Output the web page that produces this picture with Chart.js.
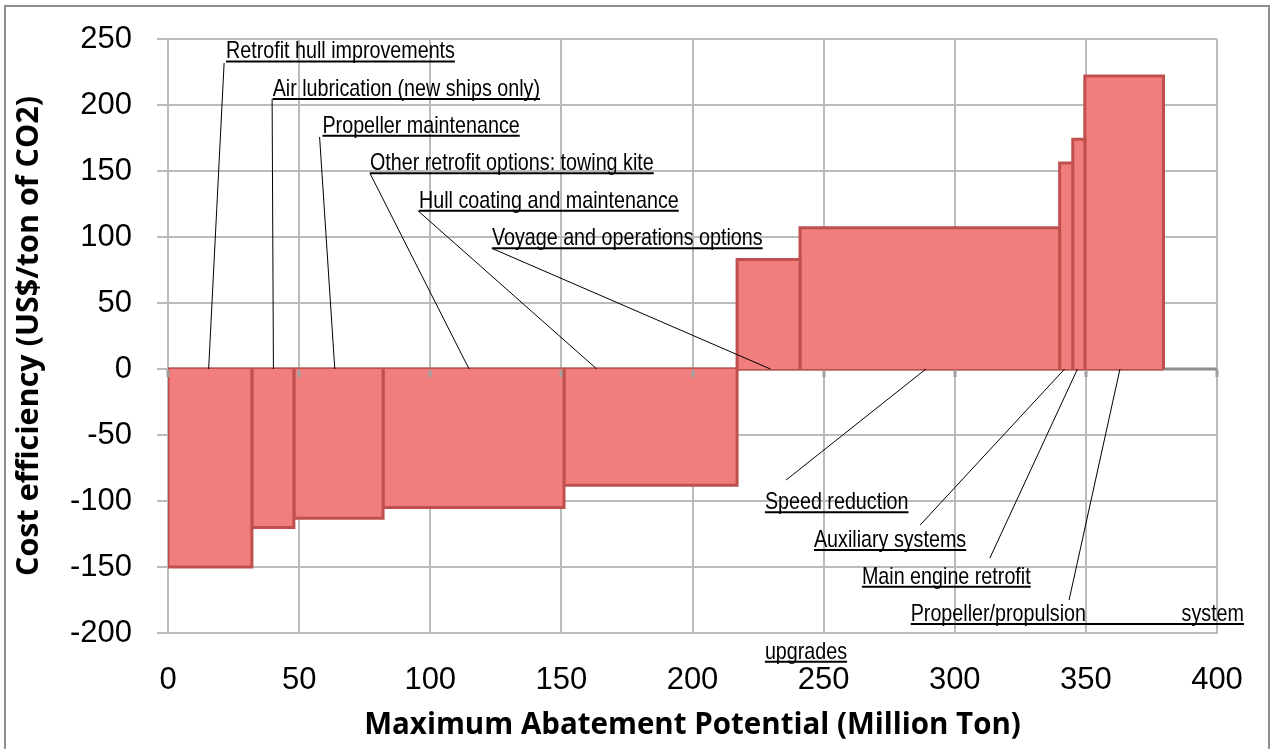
<!DOCTYPE html>
<html>
<head>
<meta charset="utf-8">
<script src="https://cdn.jsdelivr.net/npm/chart.js@4.4.1/dist/chart.umd.min.js"></script>
<style>
  html, body { margin: 0; padding: 0; background: #fff; }
  canvas { display: block; }
</style>
</head>
<body>
<canvas id="myChart" width="1272" height="749"></canvas>
<script>
// measures, in the order they sit on the curve
const measures = [
  'Retrofit hull improvements',
  'Air lubrication (new ships only)',
  'Propeller maintenance',
  'Other retrofit options: towing kite',
  'Hull coating and maintenance',
  'Voyage and operations options',
  'Speed reduction',
  'Auxiliary systems',
  'Main engine retrofit',
  'Propeller/propulsion system upgrades'
]
// maximum abatement potential of each measure (Million Ton) = block width
const potential = [32, 16, 34, 69, 66, 24, 99, 5, 4.6, 30]
// cost efficiency (US$/ton of CO2) = block height
const cost = [-150, -120, -113, -105, -88, 83, 107, 156, 174, 222]

const xTicks = [0, 50, 100, 150, 200, 250, 300, 350, 400]
const yTicks = [-200, -150, -100, -50, 0, 50, 100, 150, 200, 250]

// where the callout labels sit (axis units): text start + underline level,
// start of leader line, and where the leader hits the zero line
const calloutLayout = [
  {tx: 22.1, ty: 233.0, sx: 21.4, sy: 231.8, ex: 15.5},
  {tx: 39.9, ty: 204.5, sx: 39.7, sy: 204.5, ex: 40.2},
  {tx: 58.9, ty: 176.7, sx: 57.8, sy: 175.8, ex: 63.6},
  {tx: 77.0, ty: 148.3, sx: 77.0, sy: 148.3, ex: 114.8},
  {tx: 95.7, ty: 119.9, sx: 95.3, sy: 119.9, ex: 163.5},
  {tx: 123.5, ty: 91.4, sx: 123.5, sy: 91.4, ex: 229.7},
  {tx: 227.6, ty: -108.6, sx: 235.7, sy: -84.1, ex: 289.0},
  {tx: 246.3, ty: -137.1, sx: 286.8, sy: -118.2, ex: 341.9},
  {tx: 264.6, ty: -164.9, sx: 313.4, sy: -143.2, ex: 346.8},
  {tx: 283.2, ty: -193.2, sx: 343.6, sy: -175.0, ex: 363.0, wrapX: 410.3, wrapTx: 227.6, wrapTy: -221.7}
]

const FILL = '#F27D7D'
const EDGE = '#C0504D'
const GRID = '#BBBBBB'
const LABEL_FONT = '"Liberation Sans Narrow", "Arial Narrow", "Liberation Sans", sans-serif'
const TITLE_FONT = '"Open Sans", "DejaVu Sans", sans-serif'

// one rectangle per measure, built from the cumulative potential
let start = 0
const datasets = measures.map((name, i) => {
  const x0 = start
  const x1 = start + potential[i]
  start = x1
  return {
    label: name,
    data: [{x: x0, y: 0}, {x: x0, y: cost[i]}, {x: x1, y: cost[i]}, {x: x1, y: 0}],
    fill: 'origin',
    backgroundColor: FILL,
    borderColor: EDGE,
    borderWidth: 3,
    borderJoinStyle: 'miter',
    pointRadius: 0,
    pointHoverRadius: 0,
    tension: 0
  }
})
// the edge every block shares with the zero line
datasets.push({
  label: 'zero edge',
  data: [{x: 0, y: 0}, {x: start, y: 0}],
  fill: false,
  borderColor: EDGE,
  borderWidth: 3,
  pointRadius: 0,
  pointHoverRadius: 0
})

const callouts = {
  id: 'callouts',
  beforeDatasetsDraw(chart) {
    const {ctx, scales: {x, y}} = chart
    const y0 = y.getPixelForValue(0)
    ctx.save()
    ctx.strokeStyle = '#8C8C8C'
    ctx.lineWidth = 3
    ctx.beginPath()
    ctx.moveTo(x.getPixelForValue(0), y0)
    ctx.lineTo(x.getPixelForValue(400), y0)
    ctx.stroke()
    ctx.restore()
  },
  afterDatasetsDraw(chart) {
    const {ctx, scales: {x, y}} = chart
    const y0 = y.getPixelForValue(0)
    ctx.save()
    ctx.strokeStyle = '#A0A0A0'
    ctx.lineWidth = 3
    xTicks.forEach(v => {
      const px = Math.round(x.getPixelForValue(v))
      ctx.beginPath()
      ctx.moveTo(px, y0 + 1)
      ctx.lineTo(px, y0 + 8)
      ctx.stroke()
    })
    ctx.restore()
  },
  afterDraw(chart) {
    const {ctx, scales: {x, y}} = chart
    ctx.save()

    // outer chart frame
    ctx.strokeStyle = '#8F8F8F'
    ctx.lineWidth = 2
    ctx.strokeRect(5, 6, 1264, 760)

    ctx.font = '24px ' + LABEL_FONT
    // if no narrow face is installed, squeeze the regular one
    let squeeze = 1
    const wNarrow = ctx.measureText('Retrofit hull improvements').width
    if (wNarrow > 250) squeeze = 229 / wNarrow

    ctx.fillStyle = '#000'
    ctx.textBaseline = 'alphabetic'

    const drawText = (txt, px, py, align) => {
      const w = ctx.measureText(txt).width * squeeze
      const left = align === 'right' ? px - w : px
      ctx.save()
      ctx.translate(left, py)
      ctx.scale(squeeze, 1)
      ctx.fillText(txt, 0, 0)
      ctx.restore()
      return w
    }
    const underline = (xa, xb, py) => {
      ctx.lineWidth = 2
      ctx.beginPath()
      ctx.moveTo(xa, py)
      ctx.lineTo(xb, py)
      ctx.stroke()
    }

    ctx.strokeStyle = '#000'
    calloutLayout.forEach((L, i) => {
      const px = x.getPixelForValue(L.tx)
      const py = y.getPixelForValue(L.ty)
      if (L.wrapX !== undefined) {
        const words = measures[i].split(' ')
        const xr = x.getPixelForValue(L.wrapX)
        drawText(words[0], px, py - 3, 'left')
        drawText(words[1], xr, py - 3, 'right')
        underline(px, xr, py)
        const wx = x.getPixelForValue(L.wrapTx)
        const wy = y.getPixelForValue(L.wrapTy)
        const w2 = drawText(words[2], wx, wy - 3, 'left')
        underline(wx, wx + w2, wy)
      } else {
        const w = drawText(measures[i], px, py - 3, 'left')
        underline(px, px + w, py)
      }
      // leader line
      ctx.lineWidth = 1
      ctx.beginPath()
      ctx.moveTo(x.getPixelForValue(L.sx), y.getPixelForValue(L.sy))
      ctx.lineTo(x.getPixelForValue(L.ex), y.getPixelForValue(0))
      ctx.stroke()
    })
    ctx.restore()
  }
}

const ctx = document.getElementById('myChart')
new Chart(ctx, {
  type: 'line',
  data: { datasets: datasets },
  options: {
    responsive: false,
    devicePixelRatio: 1,
    animation: false,
    layout: { padding: { top: 39, right: 55, left: 0, bottom: 0 } },
    plugins: { legend: { display: false }, tooltip: { enabled: false } },
    scales: {
      x: {
        type: 'linear',
        min: 0, max: 400,
        afterFit(scale) {
          scale.height = 116
          scale.paddingLeft = 0
          scale.paddingRight = 0
        },
        afterBuildTicks(scale) { scale.ticks = xTicks.map(v => ({value: v})) },
        grid: { color: GRID, lineWidth: 2, drawTicks: false },
        border: { color: GRID, width: 2 },
        ticks: { color: '#000', padding: 29, font: { family: '"Liberation Sans", Arial, sans-serif', size: 31 } },
        title: {
          display: true,
          text: 'Maximum Abatement Potential (Million Ton)',
          color: '#000',
          padding: { top: 0, bottom: 6 },
          font: { family: TITLE_FONT, size: 29.5, weight: 'bold' }
        }
      },
      y: {
        min: -200, max: 250,
        afterFit(scale) {
          scale.width = 168
          scale.paddingTop = 0
          scale.paddingBottom = 0
        },
        afterBuildTicks(scale) { scale.ticks = yTicks.map(v => ({value: v})) },
        grid: { color: GRID, lineWidth: 2, tickLength: 11 },
        border: { color: GRID, width: 2 },
        ticks: { color: '#000', padding: 25, font: { family: '"Liberation Sans", Arial, sans-serif', size: 31 } },
        title: {
          display: true,
          text: 'Cost efficiency (US$/ton of CO2)',
          color: '#000',
          padding: { top: 11, bottom: 0 },
          font: { family: TITLE_FONT, size: 30.5, weight: 'bold' }
        }
      }
    }
  },
  plugins: [callouts]
})
</script>
</body>
</html>
